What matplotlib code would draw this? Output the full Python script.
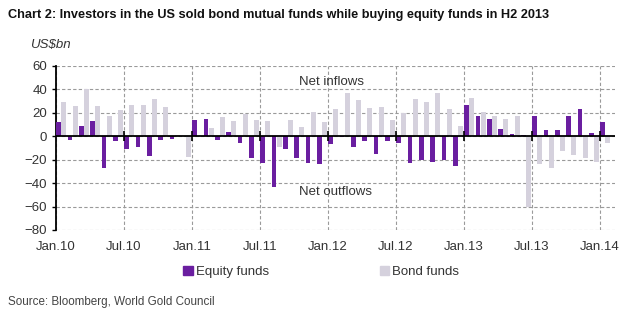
import numpy as np
import matplotlib.pyplot as plt
from matplotlib.patches import Patch

plt.rcParams['font.family'] = ['Liberation Sans Narrow', 'Liberation Sans', 'DejaVu Sans']

# monthly net flows, Jan 2010 - Jan 2014 (US$bn)
months = ['Jan.10', 'Feb.10', 'Mar.10', 'Apr.10', 'May.10', 'Jun.10', 'Jul.10', 'Aug.10', 'Sep.10', 'Oct.10', 'Nov.10', 'Dec.10',
          'Jan.11', 'Feb.11', 'Mar.11', 'Apr.11', 'May.11', 'Jun.11', 'Jul.11', 'Aug.11', 'Sep.11', 'Oct.11', 'Nov.11', 'Dec.11',
          'Jan.12', 'Feb.12', 'Mar.12', 'Apr.12', 'May.12', 'Jun.12', 'Jul.12', 'Aug.12', 'Sep.12', 'Oct.12', 'Nov.12', 'Dec.12',
          'Jan.13', 'Feb.13', 'Mar.13', 'Apr.13', 'May.13', 'Jun.13', 'Jul.13', 'Aug.13', 'Sep.13', 'Oct.13', 'Nov.13', 'Dec.13',
          'Jan.14']

equity = [12, -3, 9, 13, -27, -4, -11, -9, -17, -3, -2, 0.5,
          14, 15, -3, 4, -6, -19, -23, -43, -11, -19, -23, -24,
          -7, -1, -9, -4, -15, -4, -6, -23, -20, -22, -20, -25,
          27, 17, 15, 6, 2, 1, 17, 5, 5, 17, 23, 3,
          12]

bond = [29, 26, 40, 26, 17, 22, 27, 27, 32, 25, 1, -18,
        0.5, 7, 16, 13, 19, 14, 13, -9, 14, 7.5, 20.5, 12,
        23, 37, 31, 24, 25, 14, 20, 32, 29, 36.5, 23, 9,
        32.5, 20.5, 17, 15, 17, -60, -24, -27, -13, -16, -19, -22,
        -6]

tick_labels = ['Jan.10', 'Jul.10', 'Jan.11', 'Jul.11', 'Jan.12', 'Jul.12', 'Jan.13', 'Jul.13', 'Jan.14']

eq_color = '#6a1ea0'
bond_color = '#d5d1dd'
text_color = '#333333'

fig = plt.figure(figsize=(6.4, 3.23), dpi=100)
ax = fig.add_axes([0.0875, 0.288, 0.873, 0.508])

idx = np.arange(len(months))
ax.bar(idx + 0.23, equity, width=0.42, color=eq_color, zorder=3)
ax.bar(idx + 0.69, bond, width=0.42, color=bond_color, zorder=2)

ax.set_xlim(0, 49.3)
ax.set_ylim(-80, 60)
ax.set_yticks(np.arange(-80, 61, 20))
ticks = [months.index(t) for t in tick_labels]
ax.set_xticks(ticks)
ax.set_xticklabels(tick_labels)

# dashed grid, category ticks across the zero line
ax.grid(True, color='#9a9a9a', linestyle=(0, (3, 2)), linewidth=0.8, zorder=0)
ax.axhline(0, color='black', linewidth=1.3, zorder=4)
ax.plot(ticks[1:], [0] * (len(ticks) - 1), ls='none', marker='|', color='black',
        markersize=7, markeredgewidth=1.2, zorder=5, clip_on=False)

for side in ['top', 'right', 'bottom']:
    ax.spines[side].set_visible(False)
ax.spines['left'].set_linewidth(1.3)
ax.tick_params(axis='x', length=0, pad=8, labelsize=9.5, labelcolor=text_color)
ax.tick_params(axis='y', length=3, width=1, direction='out', labelsize=9.5, labelcolor=text_color)

ax.text(24.3, 46.5, 'Net inflows', ha='center', va='center', fontsize=9.5, color=text_color, zorder=6)
ax.text(24.7, -48, 'Net outflows', ha='center', va='center', fontsize=9.5, color=text_color, zorder=6)

fig.text(0.012, 0.955, 'Chart 2: Investors in the US sold bond mutual funds while buying equity funds in H2 2013',
         fontsize=9.2, fontweight='bold', color='#111111', va='center')
fig.text(0.047, 0.862, 'US$bn', fontsize=9.5, style='italic', color=text_color, va='center')
fig.text(0.012, 0.065, 'Source: Bloomberg, World Gold Council', fontsize=8.4, color='#444444', va='center')

handles = [Patch(color=eq_color), Patch(color=bond_color)]
fig.legend(handles, ['Equity funds', 'Bond funds'], ncol=2, frameon=False,
           loc='center left', bbox_to_anchor=(0.268, 0.158), fontsize=9.5,
           handlelength=0.7, handleheight=0.7, handletextpad=0.25, columnspacing=8.4,
           labelcolor=text_color)

fig.savefig('out.png', dpi=100)
